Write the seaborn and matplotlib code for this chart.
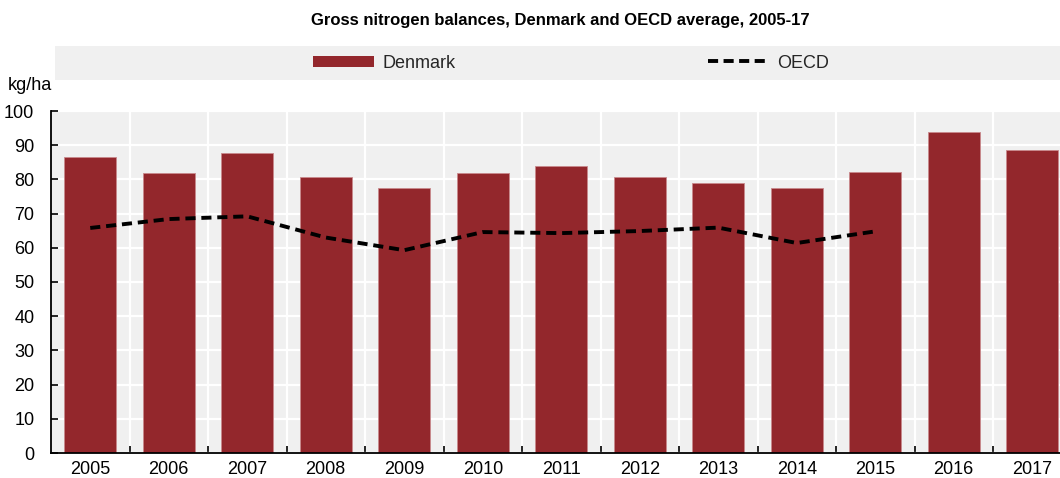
import matplotlib
matplotlib.use("Agg")
import matplotlib.pyplot as plt
from matplotlib.patches import Rectangle, Patch
from matplotlib.lines import Line2D
from matplotlib.ticker import MultipleLocator, FixedLocator
import seaborn as sns
import numpy as np
import pandas as pd
from matplotlib import font_manager

years = ["2005", "2006", "2007", "2008", "2009", "2010", "2011",
         "2012", "2013", "2014", "2015", "2016", "2017"]
denmark = [86.5, 81.9, 87.6, 80.7, 77.6, 81.8, 83.9, 80.7, 78.9, 77.6, 82.1, 93.8, 88.7]
oecd_years = ["2005", "2006", "2007", "2008", "2009", "2010", "2011",
              "2012", "2013", "2014", "2015"]
oecd = [65.8, 68.4, 69.2, 63.0, 59.3, 64.6, 64.3, 64.9, 65.9, 61.4, 64.8]

title = "Gross nitrogen balances, Denmark and OECD average, 2005-17"
unit = "kg/ha"

sns.set_theme(style="white")
names = {f.name for f in font_manager.fontManager.ttflist}
fam = "Liberation Sans Narrow" if "Liberation Sans Narrow" in names else "Liberation Sans"
plt.rcParams["font.family"] = [fam, "DejaVu Sans"]

W, H = 1060, 478
fig = plt.figure(figsize=(W / 100, H / 100), dpi=100)
fig.patch.set_facecolor("white")

def fx(px):
    return px / W

def fy(py):
    return 1 - py / H

left, right, top, bottom = 51, 1071.5, 111, 453
ax = fig.add_axes([fx(left), fy(bottom), fx(right - left), (bottom - top) / H])
ax.set_facecolor("#f0f0f0")

bar_color = "#93272c"
df = pd.DataFrame({"year": years, "value": denmark})
sns.barplot(data=df, x="year", y="value", color=bar_color, saturation=1,
            width=0.665, edgecolor="#c9898c", linewidth=0.6, ax=ax, zorder=2)

pos = {y: i for i, y in enumerate(years)}
dl = pd.DataFrame({"x": [pos[y] for y in oecd_years], "value": oecd})
sns.lineplot(data=dl, x="x", y="value", color="black", linewidth=2.8, ax=ax,
             zorder=3)
ax.lines[-1].set_dashes((2.6, 1.5))

ax.set_xlim(-0.5, len(years) - 0.5)
ax.set_ylim(0, 100)
ax.yaxis.set_major_locator(MultipleLocator(10))
ax.xaxis.set_minor_locator(FixedLocator(np.arange(0.5, len(years) - 0.5, 1)))
ax.grid(axis="y", which="major", color="white", linewidth=1.6, zorder=0)
ax.grid(axis="x", which="minor", color="white", linewidth=1.6, zorder=0)
ax.set_axisbelow(True)
ax.set_xlabel("")
ax.set_ylabel("")

for s in ["top", "right"]:
    ax.spines[s].set_visible(False)
for s in ["left", "bottom"]:
    ax.spines[s].set_visible(True)
    ax.spines[s].set_color("black")
    ax.spines[s].set_linewidth(1.3)

ax.tick_params(axis="x", which="major", length=0, pad=6, labelsize=13, colors="black")
ax.tick_params(axis="x", which="minor", length=5, width=1.2, direction="in",
               color="black", bottom=True)
ax.tick_params(axis="y", which="major", length=5, width=1.2, direction="in",
               pad=12, labelsize=13, colors="black", left=True)

fig.text(fx(560), fy(20), title, ha="center", va="center", fontsize=12,
         fontweight="bold", color="black")
fig.text(fx(8), fy(85), unit, ha="left", va="center", fontsize=13, color="black")

fig.patches.append(Rectangle((fx(55), fy(80)), fx(1060 - 55), (80 - 46) / H,
                             transform=fig.transFigure, facecolor="#f0f0f0",
                             edgecolor="none", zorder=0))

h1 = Patch(facecolor=bar_color, edgecolor="none")
h2 = Line2D([0], [0], color="black", linewidth=2.8, dashes=(2.6, 1.4))
fs = 13
l1 = fig.legend([h1], ["Denmark"], loc="center left",
                bbox_to_anchor=(fx(313), fy(63)), frameon=False, fontsize=fs,
                handlelength=3.4, handleheight=0.55, handletextpad=0.45,
                borderpad=0, borderaxespad=0)
l2 = fig.legend([h2], ["OECD"], loc="center left",
                bbox_to_anchor=(fx(708), fy(63)), frameon=False, fontsize=fs,
                handlelength=3.4, handletextpad=0.45,
                borderpad=0, borderaxespad=0)

fig.savefig("out.png", dpi=100)
